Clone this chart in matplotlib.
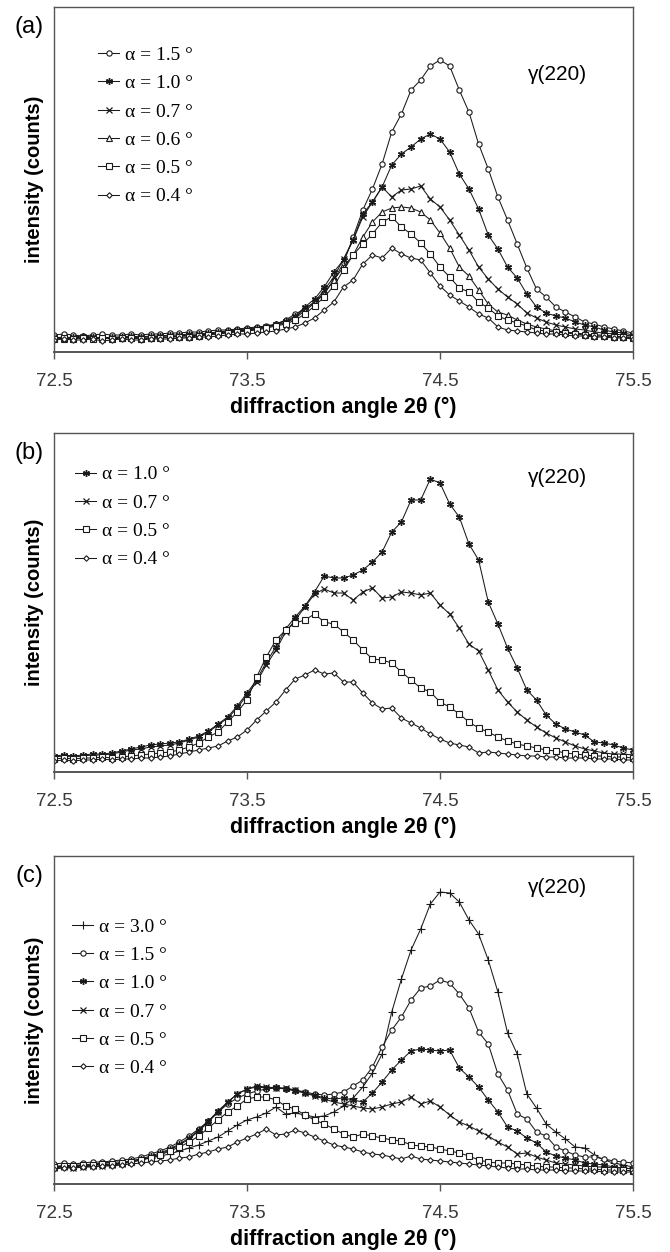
import numpy as np
import matplotlib.pyplot as plt

plt.rcParams['font.family'] = ['Liberation Sans', 'DejaVu Sans']

# diffraction angle grid (2theta, deg), 0.05 deg steps
two_theta = np.linspace(72.5, 75.5, 61)

# (a) intensities, arbitrary counts
a_15 = [17, 18, 17, 16, 17, 18, 17, 17, 18, 17,
        18, 18, 19, 19, 20, 20, 21, 22, 22, 23,
        24, 25, 26, 28, 32, 38, 43, 50, 59, 72,
        89, 115, 142, 163, 188, 220, 238, 262, 272, 286,
        292, 286, 262, 240, 208, 183, 155, 132, 108, 84,
        63, 55, 45, 40, 35, 30, 28, 25, 23, 21,
        19]
a_10 = [15, 14, 15, 16, 15, 14, 15, 15, 16, 15,
        16, 16, 17, 17, 18, 18, 19, 20, 21, 22,
        23, 24, 25, 28, 31, 36, 45, 53, 65, 80,
        92, 112, 138, 150, 165, 187, 198, 205, 213, 218,
        213, 200, 178, 163, 143, 117, 103, 85, 74, 58,
        45, 39, 36, 34, 30, 27, 25, 22, 20, 19,
        17]
a_07 = [14, 15, 14, 13, 15, 14, 14, 15, 14, 15,
        15, 16, 16, 16, 17, 17, 18, 19, 20, 21,
        22, 23, 25, 27, 30, 35, 43, 50, 62, 75,
        93, 112, 135, 150, 165, 155, 162, 163, 166, 153,
        145, 132, 117, 102, 85, 73, 63, 55, 48, 39,
        34, 30, 27, 25, 23, 22, 20, 19, 18, 17,
        16]
a_06 = [14, 13, 14, 15, 14, 13, 14, 14, 15, 14,
        14, 15, 15, 16, 16, 17, 18, 19, 20, 21,
        22, 23, 25, 27, 29, 34, 41, 49, 58, 72,
        85, 97, 115, 130, 140, 144, 145, 144, 140, 132,
        119, 104, 85, 76, 62, 48, 40, 37, 32, 28,
        25, 23, 21, 20, 19, 18, 17, 17, 16, 15,
        15]
a_05 = [13, 14, 13, 14, 13, 14, 13, 14, 14, 13,
        14, 14, 15, 15, 15, 16, 17, 18, 19, 20,
        21, 22, 24, 26, 28, 32, 38, 46, 55, 66,
        82, 97, 108, 118, 130, 135, 125, 118, 109, 98,
        85, 75, 64, 60, 50, 44, 36, 32, 29, 26,
        22, 21, 20, 19, 18, 17, 16, 16, 15, 15,
        14]
a_04 = [12, 13, 12, 12, 13, 11, 12, 13, 12, 12,
        13, 13, 13, 14, 14, 15, 15, 16, 17, 18,
        18, 19, 20, 21, 23, 25, 29, 34, 42, 50,
        65, 72, 88, 97, 94, 104, 98, 94, 92, 79,
        66, 57, 51, 45, 38, 34, 25, 22, 21, 20,
        19, 18, 18, 17, 16, 16, 15, 15, 14, 14,
        13]

# (b)
b_10 = [16, 17, 16, 17, 18, 18, 19, 21, 23, 25,
        27, 28, 29, 30, 33, 36, 41, 48, 55, 66,
        79, 92, 110, 125, 143, 155, 166, 180, 196, 194,
        194, 197, 202, 210, 220, 240, 250, 272, 272, 293,
        289, 268, 255, 228, 212, 170, 148, 124, 104, 82,
        72, 57, 48, 43, 40, 37, 30, 29, 27, 24,
        22]
b_07 = [15, 16, 15, 16, 17, 17, 18, 20, 22, 23,
        25, 26, 27, 29, 32, 35, 40, 47, 54, 64,
        77, 90, 107, 122, 140, 152, 165, 178, 183, 179,
        179, 172, 180, 184, 174, 175, 180, 179, 177, 179,
        167, 158, 144, 128, 121, 102, 82, 70, 60, 52,
        45, 39, 34, 30, 26, 23, 21, 19, 18, 18,
        17]
b_05 = [13, 14, 13, 14, 14, 15, 14, 15, 16, 17,
        18, 19, 20, 22, 25, 29, 35, 40, 50, 60,
        72, 95, 115, 132, 142, 149, 152, 158, 150, 148,
        140, 132, 122, 113, 112, 109, 100, 92, 84, 80,
        70, 65, 58, 50, 44, 40, 35, 31, 28, 26,
        24, 22, 21, 19, 18, 17, 16, 16, 15, 15,
        14]
b_04 = [11, 12, 11, 12, 12, 13, 12, 13, 13, 14,
        14, 15, 16, 18, 20, 22, 24, 26, 31, 35,
        42, 52, 61, 70, 82, 93, 97, 102, 98, 99,
        90, 90, 79, 69, 63, 64, 54, 49, 44, 38,
        33, 29, 27, 25, 19, 20, 19, 18, 17, 16,
        16, 15, 15, 14, 14, 14, 13, 13, 13, 12,
        12]

# (c)
c_30 = [18, 18, 19, 19, 20, 21, 22, 22, 23, 25,
        26, 28, 30, 33, 36, 39, 43, 47, 53, 59,
        64, 67, 71, 77, 70, 71, 69, 67, 68, 72,
        78, 86, 97, 111, 130, 172, 205, 234, 255, 280,
        292, 291, 282, 264, 250, 224, 192, 151, 130, 90,
        76, 60, 52, 45, 37, 36, 29, 24, 21, 19,
        17]
c_15 = [20, 21, 20, 21, 22, 22, 23, 24, 25, 27,
        30, 33, 37, 42, 48, 55, 63, 72, 80, 86,
        90, 93, 95, 96, 95, 94, 92, 90, 89, 90,
        92, 98, 104, 117, 137, 154, 167, 184, 196, 198,
        204, 201, 190, 176, 152, 140, 110, 94, 70, 65,
        52, 48, 37, 33, 29, 27, 27, 25, 23, 22,
        21]
c_10 = [17, 18, 17, 18, 19, 19, 20, 21, 23, 25,
        28, 31, 35, 40, 46, 54, 63, 73, 82, 90,
        95, 97, 96, 97, 95, 93, 91, 89, 86, 85,
        86, 84, 82, 91, 102, 114, 124, 133, 135, 134,
        133, 134, 116, 107, 97, 84, 72, 57, 53, 46,
        41, 32, 28, 26, 24, 21, 20, 19, 17, 16,
        15]
c_07 = [16, 17, 16, 17, 18, 18, 19, 20, 22, 24,
        27, 30, 34, 39, 45, 53, 62, 72, 82, 90,
        95, 98, 97, 96, 96, 94, 91, 88, 85, 82,
        80, 78, 76, 75, 77, 80, 82, 87, 80, 83,
        77, 69, 62, 58, 53, 48, 42, 37, 30, 31,
        27, 24, 21, 20, 19, 18, 17, 17, 16, 16,
        15]
c_05 = [17, 18, 18, 19, 19, 20, 20, 21, 22, 24,
        26, 29, 33, 37, 42, 48, 56, 64, 72, 78,
        85, 87, 87, 84, 78, 75, 69, 64, 60, 55,
        50, 47, 50, 48, 46, 44, 43, 39, 38, 37,
        35, 33, 31, 28, 24, 22, 21, 21, 20, 19,
        18, 17, 17, 16, 16, 15, 15, 14, 14, 14,
        13]
c_04 = [15, 16, 16, 17, 17, 18, 18, 19, 20, 21,
        22, 23, 24, 26, 27, 30, 32, 35, 37, 42,
        46, 50, 55, 49, 50, 54, 51, 47, 43, 39,
        37, 35, 32, 30, 29, 27, 25, 28, 25, 24,
        23, 22, 21, 20, 19, 18, 17, 16, 15, 15,
        14, 14, 14, 13, 13, 13, 13, 12, 12, 12,
        12]

ticks = [72.5, 73.5, 74.5, 75.5]

styles = {
    '3.0': dict(marker='+', ms=5.5, mew=0.8),
    '1.5': dict(marker='o', ms=3.8, mfc='white', mew=0.8),
    '1.0': dict(marker=(6, 2, 0), ms=5, mew=1.0),
    '0.7': dict(marker='x', ms=4, mew=0.9),
    '0.6': dict(marker='^', ms=3.8, mfc='white', mew=0.8),
    '0.5': dict(marker='s', ms=3.8, mfc='white', mew=0.8),
    '0.4': dict(marker='D', ms=2.8, mfc='white', mew=0.8),
}

fig = plt.figure(figsize=(6.7, 12.52), dpi=100)
W, H = 670, 1252


def panel(top, bottom, tag, series, ymax, leg_xy, gamma_xy):
    ax = fig.add_axes([54 / W, 1 - bottom / H, 579 / W, (bottom - top) / H])
    for alpha, y in series:
        ax.plot(two_theta, y, color='#1a1a1a', lw=0.75, mec='#1a1a1a',
                label='\u03b1 = ' + alpha + ' \u00b0', **styles[alpha])
    ax.set_xlim(72.5, 75.5)
    ax.set_ylim(0, ymax)
    ax.set_xticks(ticks)
    ax.set_xticklabels(['72.5', '73.5', '74.5', '75.5'])
    ax.set_yticks([])
    ax.tick_params(axis='x', direction='out', length=5, width=1.0,
                   color='#555555', labelsize=13.5, labelcolor='#3a3a3a', pad=10)
    for s in ax.spines.values():
        s.set_color('#555555')
        s.set_linewidth(1.0)
    ax.spines['bottom'].set_linewidth(1.4)
    ax.set_xlabel('diffraction angle 2\u03b8 (\u00b0)', fontsize=15.5,
                  fontweight='bold', labelpad=5)
    ax.set_ylabel('intensity (counts)', fontsize=14.5, fontweight='bold')
    ax.yaxis.set_label_coords(-0.018, 0.5)
    ax.legend(loc='upper left', bbox_to_anchor=leg_xy, frameon=False,
              prop={'family': 'Liberation Serif', 'size': 14},
              handlelength=1.1, handletextpad=0.3, labelspacing=0.55,
              borderaxespad=0, borderpad=0)
    ax.text(gamma_xy[0], gamma_xy[1], '\u03b3(220)', transform=ax.transAxes,
            ha='center', va='center', fontsize=15)
    fig.text(29 / W, 1 - (top + 20) / H, tag, ha='center', va='center',
             fontsize=17)
    return ax


panel(7, 352, '(a)',
      [('1.5', a_15), ('1.0', a_10), ('0.7', a_07),
       ('0.6', a_06), ('0.5', a_05), ('0.4', a_04)],
      345, (0.076, 0.886), (0.870, 0.803))
panel(433, 772, '(b)',
      [('1.0', b_10), ('0.7', b_07), ('0.5', b_05), ('0.4', b_04)],
      339, (0.036, 0.903), (0.870, 0.870))
panel(856, 1184, '(c)',
      [('3.0', c_30), ('1.5', c_15), ('1.0', c_10),
       ('0.7', c_07), ('0.5', c_05), ('0.4', c_04)],
      328, (0.031, 0.811), (0.870, 0.905))

fig.savefig('out.png', dpi=100)
